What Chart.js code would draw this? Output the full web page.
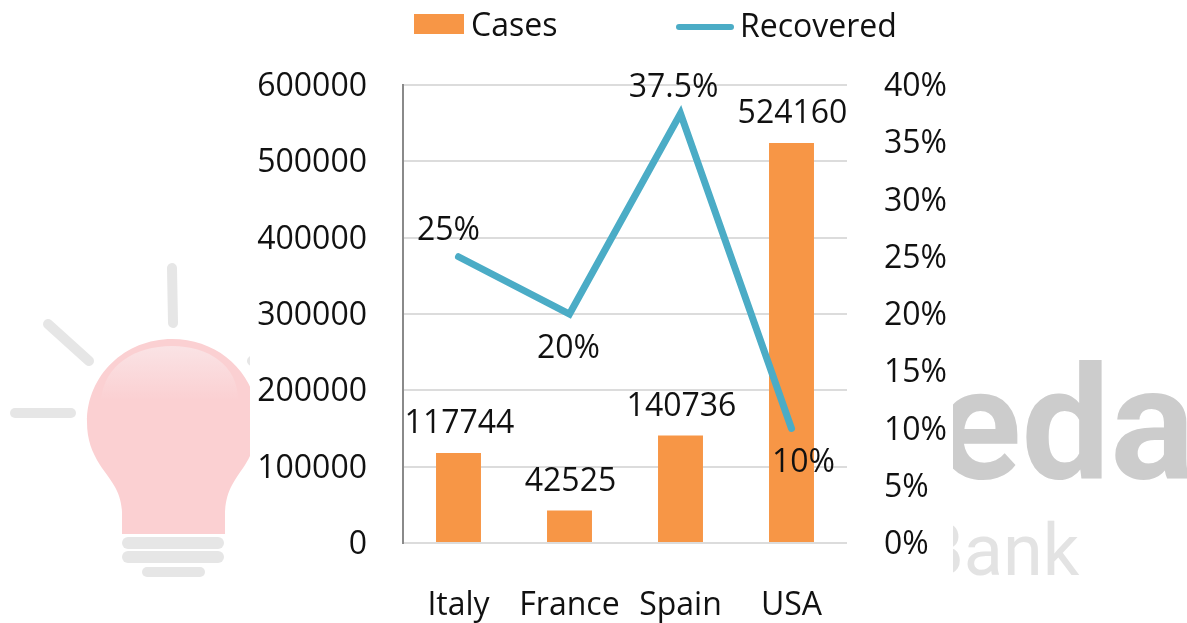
<!DOCTYPE html>
<html>
<head>
<meta charset="utf-8">
<style>
html,body{margin:0;padding:0;background:#fff;width:1187px;height:623px;overflow:hidden}
#wm{position:absolute;left:0;top:0}
#wrap{position:absolute;left:0;top:0;width:1187px;height:623px}
</style>
<script src="https://cdn.jsdelivr.net/npm/chart.js@4"></script>
</head>
<body>
<svg id="wm" width="1187" height="623" xmlns="http://www.w3.org/2000/svg">
  <defs>
    <linearGradient id="hl" x1="0" y1="0" x2="0" y2="1">
      <stop offset="0" stop-color="#fae3e5"/>
      <stop offset="1" stop-color="#fbd0d2"/>
    </linearGradient>
  </defs>
  <g stroke="#e6e6e6" stroke-width="10" stroke-linecap="round" fill="none">
    <path d="M172 268 L173 323"/>
    <path d="M48 324 L89 361"/>
    <path d="M15 413 L71 413"/>
    <path d="M252 361 L293 324"/>
  </g>
  <path fill="#fbd0d2" d="M122 534 L122 512 C121 490 110 480 100 465 C92 452 87 440 87 422 C87 375 125 339 172 339 C220 339 258 375 258 422 C258 440 253 452 245 465 C235 480 226 490 225 512 L225 534 Z"/>
  <path fill="url(#hl)" d="M101 400 C104 365 135 346 172 346 C208 346 238 365 238 400 L101 400 Z"/>
  <g fill="#e6e6e6">
    <rect x="122" y="537" width="102" height="12" rx="6"/>
    <rect x="122" y="551" width="102" height="12" rx="6"/>
    <rect x="142" y="567" width="63" height="10" rx="5"/>
  </g>
  <text x="936" y="478" font-family="Roboto" font-weight="700" font-size="158" fill="#cccccc">eda</text>
  <text x="919" y="575" font-family="Roboto" font-size="72" fill="#e3e3e3">Bank</text>
  <rect x="250" y="0" width="703" height="623" fill="#fff"/>
</svg>
<div id="wrap"><canvas id="c" width="1187" height="623"></canvas></div>
<script>
const categories = ["Italy", "France", "Spain", "USA"];
const casesValues = [117744, 42525, 140736, 524160];
const recoveredValues = [25, 20, 37.5, 10];
const casesName = "Cases";
const recoveredName = "Recovered";

const FONT = '"Open Sans", sans-serif';
const SIZE = 32;
const INK = "#111111";
const ORANGE = "#f79646";
const TEAL = "#4bacc6";

const labelPlugin = {
  id: "labels",
  afterDatasetsDraw(chart) {
    const ctx = chart.ctx;
    ctx.save();
    ctx.font = SIZE + "px " + FONT;
    ctx.fillStyle = INK;
    ctx.textAlign = "center";
    ctx.textBaseline = "middle";
    const barMeta = chart.getDatasetMeta(0);
    barMeta.data.forEach((el, i) => {
      ctx.fillText(String(casesValues[i]), el.x + 1, el.y - 29);
    });
    const lineOffsets = [[-10, -26], [-1, 35], [-7, -26], [12, 34]];
    const lineMeta = chart.getDatasetMeta(1);
    lineMeta.data.forEach((el, i) => {
      ctx.fillText(recoveredValues[i] + "%", el.x + lineOffsets[i][0], el.y + lineOffsets[i][1]);
    });
    ctx.restore();
  }
};

const legendPlugin = {
  id: "topLegend",
  afterDraw(chart) {
    const ctx = chart.ctx;
    ctx.save();
    ctx.fillStyle = ORANGE;
    ctx.fillRect(414, 14, 50, 20);
    ctx.strokeStyle = TEAL;
    ctx.lineWidth = 6;
    ctx.lineCap = "round";
    ctx.beginPath();
    ctx.moveTo(679, 27);
    ctx.lineTo(731, 27);
    ctx.stroke();
    ctx.font = SIZE + "px " + FONT;
    ctx.fillStyle = INK;
    ctx.textAlign = "left";
    ctx.textBaseline = "middle";
    ctx.fillText(casesName, 471, 27);
    ctx.fillText(recoveredName, 740, 28);
    ctx.restore();
  }
};

new Chart(document.getElementById("c"), {
  data: {
    labels: categories,
    datasets: [
      { type: "bar", label: casesName, data: casesValues, yAxisID: "y",
        backgroundColor: ORANGE, barPercentage: 0.405, categoryPercentage: 1, order: 2 },
      { type: "line", label: recoveredName, data: recoveredValues, yAxisID: "y1",
        borderColor: TEAL, borderWidth: 7, borderCapStyle: "round", borderJoinStyle: "miter",
        pointRadius: 0, tension: 0, fill: false, order: 1 }
    ]
  },
  options: {
    responsive: false,
    animation: false,
    layout: { padding: { top: 85, left: 0, right: 0, bottom: 0 } },
    plugins: { legend: { display: false }, tooltip: { enabled: false } },
    scales: {
      x: {
        grid: { display: false, drawTicks: false },
        border: { display: false },
        ticks: { color: INK, font: { family: FONT, size: SIZE }, padding: 44, maxRotation: 0, autoSkip: false },
        afterFit(s) { s.height = 80; }
      },
      y: {
        position: "left", min: 0, max: 600000,
        grid: { color: "#dcdcdc", lineWidth: 2, drawTicks: false },
        border: { display: true, color: "#8a8a8a", width: 2 },
        ticks: { stepSize: 100000, color: INK, font: { family: FONT, size: SIZE }, padding: 36, labelOffset: 2, callback: v => String(v) },
        afterFit(s) { s.width = 403; }
      },
      y1: {
        position: "right", min: 0, max: 40,
        grid: { display: false, drawTicks: false },
        border: { display: false },
        ticks: { stepSize: 5, color: INK, font: { family: FONT, size: SIZE }, padding: 37, labelOffset: 2, callback: v => v + "%" },
        afterFit(s) { s.width = 340; }
      }
    }
  },
  plugins: [labelPlugin, legendPlugin]
});
</script>
</body>
</html>
